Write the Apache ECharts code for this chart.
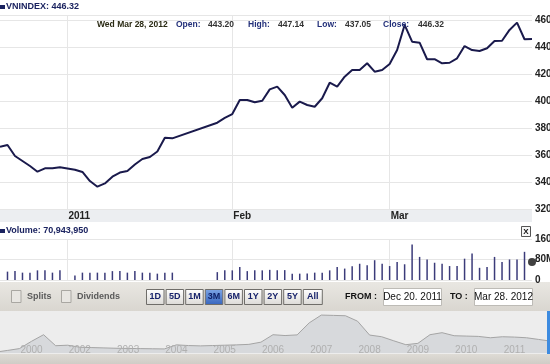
<!DOCTYPE html>
<html><head><meta charset="utf-8">
<script src="https://cdn.jsdelivr.net/npm/echarts@6.0.0/dist/echarts.min.js"></script>
<style>html,body{margin:0;padding:0;background:#fff}#c{width:550px;height:364px}</style>
</head><body><div id="c"></div>
<script>
// ---- data ----
const dates = [
 '2011-12-20','2011-12-21','2011-12-22','2011-12-23','2011-12-26','2011-12-27','2011-12-28','2011-12-29','2011-12-30',
 '2012-01-02','2012-01-03','2012-01-04','2012-01-05','2012-01-06','2012-01-09','2012-01-10','2012-01-11','2012-01-12','2012-01-13',
 '2012-01-16','2012-01-17','2012-01-18','2012-01-19','2012-01-20','2012-01-23','2012-01-24','2012-01-25','2012-01-26','2012-01-27',
 '2012-01-30','2012-01-31',
 '2012-02-01','2012-02-02','2012-02-03','2012-02-06','2012-02-07','2012-02-08','2012-02-09','2012-02-10','2012-02-13','2012-02-14',
 '2012-02-15','2012-02-16','2012-02-17','2012-02-20','2012-02-21','2012-02-22','2012-02-23','2012-02-24','2012-02-27','2012-02-28','2012-02-29',
 '2012-03-01','2012-03-02','2012-03-05','2012-03-06','2012-03-07','2012-03-08','2012-03-09','2012-03-12','2012-03-13','2012-03-14',
 '2012-03-15','2012-03-16','2012-03-19','2012-03-20','2012-03-21','2012-03-22','2012-03-23','2012-03-26','2012-03-27','2012-03-28'
];
const closeValues = [
 366.5,367.8,359.6,355.9,352.2,348.0,350.5,350.5,351.3,
 null,349.5,347.8,341.1,336.9,339.3,344.3,347.4,348.5,353.3,
 357.4,358.9,363.0,373.2,372.7,null,null,null,null,null,
 384.3,387.8,
 390.7,401.1,401.1,399.4,400.6,409.0,411.0,404.8,395.4,399.9,
 397.4,396.1,402.4,413.9,411.0,418.4,423.3,423.3,428.3,422.1,423.3,
 427.8,438.1,456.7,444.3,443.6,431.3,431.3,428.3,428.7,432.0,
 441.1,438.1,437.4,439.4,444.8,445.0,453.0,458.4,446.1,446.32
];
const volumeValues = [
 null,33,35,29,29,38,38,29,38,
 null,18,29,29,29,29,35,35,29,35,
 29,29,25,29,29,null,null,null,null,null,
 31,38,
 38,51,35,38,38,40,38,39,25,25,
 26,29,29,38,51,45,54,64,58,78,64,
 55,71,62,140,91,81,68,64,55,55,
 84,104,48,51,91,71,81,81,111,null
];
const lastVolume = 70.94395;
const monthTickDates = ['2012-01-02','2012-02-01','2012-03-01'];
const monthTickText = ['2011','Feb','Mar'];
const navYearLabels = ['2000','2002','2003','2004','2005','2006','2007','2008','2009','2010','2011'];
const navStart = -0.75, navStep = 0.25;
const navValues = [25,75,130,345,540,215,230,170,160,150,140,135,130,125,120,240,220,210,220,230,240,255,320,540,515,535,890,1120,1110,1100,940,530,480,360,245,285,540,600,510,500,490,450,480,470,450,400,350,370];
const rangeButtons = ['1D','5D','1M','3M','6M','1Y','2Y','5Y','All'];
const activeRange = '3M';

// ---- chart ----
const FONT = '"Liberation Sans", Arial, sans-serif';
const monthLabel = {};
monthTickDates.forEach((d,i)=>monthLabel[d]=monthTickText[i]);
const monthIdx = monthTickDates.map(d=>dates.indexOf(d));
const navData = navValues.map((v,i)=>[navStart+i*navStep, v]);
const G = echarts.graphic;

function txt(x,y,text,o){o=o||{};return {type:'text',x:x,y:y,z:(o.z!=null?o.z:20),silent:true,style:{text:text,fontFamily:FONT,fontSize:o.size||9,fontWeight:o.weight||'bold',fill:o.color||'#222',textAlign:o.align||'left',align:o.align||'left',textVerticalAlign:'middle',verticalAlign:'middle'}};}
function rect(x,y,w,h,fill,stroke,z){return {type:'rect',z:(z!=null?z:1),silent:true,shape:{x:x,y:y,width:w,height:h},style:{fill:fill,stroke:stroke||null,lineWidth:1}};}
function vgrad(a,b){return new G.LinearGradient(0,0,0,1,[{offset:0,color:a},{offset:1,color:b}]);}

const graphics = [];
// header
graphics.push(rect(0,5,5,4,'#1b2360',null,20));
graphics.push(txt(6,7,'VNINDEX: 446.32',{color:'#1b2360'}));
// info row
const info = [[97,'Wed Mar 28, 2012','#2a2a14'],[176,'Open:','#23307a'],[208,'443.20','#333'],[248,'High:','#23307a'],[278,'447.14','#333'],[317,'Low:','#23307a'],[345,'437.05','#333'],[383,'Close:','#23307a'],[418,'446.32','#333']];
info.forEach(a=>graphics.push(txt(a[0],25,a[1],{color:a[2],size:8.5})));
// x band
graphics.push(rect(0,210,532,12,'#eceef1',null,-1));
// volume header
graphics.push(rect(0,229,5,4,'#1b2360',null,20));
graphics.push(txt(6,231,'Volume: 70,943,950',{color:'#1b2360'}));
graphics.push(rect(521.5,226.5,9,10,'#f6f6f6','#555',20));
graphics.push(txt(526,231.5,'X',{align:'center',size:8,color:'#111'}));
// controls bar
graphics.push(rect(0,282,550,29,vgrad('#e9e7e2','#d9d6d0'),null,-1));
graphics.push(rect(11.5,290.5,9.5,12,'#e8e6e2','#a9a7a2',20));
graphics.push(txt(27,296.5,'Splits',{color:'#5a5a5a'}));
graphics.push(rect(61.5,290.5,9.5,12,'#e8e6e2','#a9a7a2',20));
graphics.push(txt(77,296.5,'Dividends',{color:'#5a5a5a'}));
rangeButtons.forEach((b,i)=>{
  const x = 146+i*19.6, w = (b==='All')?19:17.5;
  const act = b===activeRange;
  graphics.push(rect(x+0.5,289.5,w,15,act?vgrad('#7ea6e6','#3564bd'):vgrad('#ffffff','#dcdad6'),'#6f6d69',20));
  graphics.push(txt(x+0.5+w/2,297,b,{align:'center',color:act?'#0e1f66':'#17226b',size:9}));
});
graphics.push(txt(345,296.5,'FROM :',{color:'#111'}));
graphics.push(rect(383.5,288.5,58,17,'#ffffff','#bdbbb6',20));
graphics.push(txt(412.5,297,'Dec 20. 2011',{align:'center',weight:'normal',size:10,color:'#111'}));
graphics.push(txt(450,296.5,'TO :',{color:'#111'}));
graphics.push(rect(474.5,288.5,58,17,'#ffffff','#bdbbb6',20));
graphics.push(txt(503.5,297,'Mar 28. 2012',{align:'center',weight:'normal',size:10,color:'#111'}));
// navigator background + scrollbar
graphics.push(rect(0,311,550,43,'#ededed',null,-1));
graphics.push(rect(0,354,550,10,vgrad('#dedbd5','#cfccc6'),null,20));
graphics.push(rect(547,311,3,43,'#3d8be0',null,25));

const chart = echarts.init(document.getElementById('c'), null, {renderer:'canvas', width:550, height:364});
const gridLine = {color:'#e6e6e6', width:1};
chart.setOption({
  animation:false,
  backgroundColor:'#ffffff',
  textStyle:{fontFamily:FONT},
  graphic:{elements:graphics},
  grid:[
    {left:0,right:18,top:15,bottom:154.5,containLabel:false,outerBoundsMode:'none'},
    {left:0,right:18,top:239.4,bottom:84,containLabel:false,outerBoundsMode:'none'},
    {left:-16.8,right:-12.8,top:311,bottom:11,containLabel:false,outerBoundsMode:'none'}
  ],
  xAxis:[
    {type:'category',gridIndex:0,data:dates,boundaryGap:false,
     axisLine:{show:false},axisTick:{show:false},
     axisLabel:{interval:0,formatter:(v)=>monthLabel[v]||'',align:'left',padding:[0,0,0,1],margin:2,fontSize:10,fontWeight:'bold',color:'#222',fontFamily:FONT},
     splitLine:{show:true,interval:(i)=>monthIdx.indexOf(i)>=0,lineStyle:gridLine}},
    {type:'category',gridIndex:1,data:dates,boundaryGap:false,
     axisLine:{show:false},axisTick:{show:false},axisLabel:{show:false},
     splitLine:{show:true,interval:(i)=>monthIdx.indexOf(i)>=0,lineStyle:gridLine}},
    {type:'value',gridIndex:2,min:-1,max:11,interval:1,z:10,
     axisLine:{show:false},axisTick:{show:false},splitLine:{show:false},
     axisLabel:{inside:true,margin:3,verticalAlign:'middle',fontSize:10,color:'#b0b0b0',fontFamily:FONT,
       formatter:(v)=>navYearLabels[Math.round(v)]||''}}
  ],
  yAxis:[
    {type:'value',gridIndex:0,position:'right',min:320,max:464.07,interval:20,
     axisLine:{show:false},axisTick:{show:false},
     axisLabel:{margin:3,fontSize:10,fontWeight:'bold',color:'#222',fontFamily:FONT,showMaxLabel:false,
       formatter:(v)=>(Math.abs(v%20)<0.001?String(v):'')},
     splitLine:{show:true,lineStyle:gridLine}},
    {type:'value',gridIndex:1,position:'right',min:0,max:160,interval:80,
     axisLine:{show:false},axisTick:{show:false},
     axisLabel:{margin:3,fontSize:10,fontWeight:'bold',color:'#222',fontFamily:FONT,
       formatter:(v)=>(v===0?'0':v+'M')},
     splitLine:{show:true,lineStyle:gridLine}},
    {type:'value',gridIndex:2,min:0,max:1240,show:false}
  ],
  series:[
    {type:'line',xAxisIndex:0,yAxisIndex:0,data:closeValues,connectNulls:true,symbol:'none',
     lineStyle:{color:'#1a1a4c',width:2},z:5},
    {type:'bar',xAxisIndex:1,yAxisIndex:1,data:volumeValues,barWidth:1.5,itemStyle:{color:'#3b3b7a'}},
    {type:'scatter',xAxisIndex:1,yAxisIndex:1,data:[[dates.length-1,lastVolume]],symbolSize:8,clip:false,itemStyle:{color:'#111'},z:6},
    {type:'line',xAxisIndex:2,yAxisIndex:2,data:navData,symbol:'none',
     lineStyle:{color:'#a4a4a4',width:1},areaStyle:{color:'#d7d9dc',opacity:1},z:3}
  ]
});
</script></body></html>
